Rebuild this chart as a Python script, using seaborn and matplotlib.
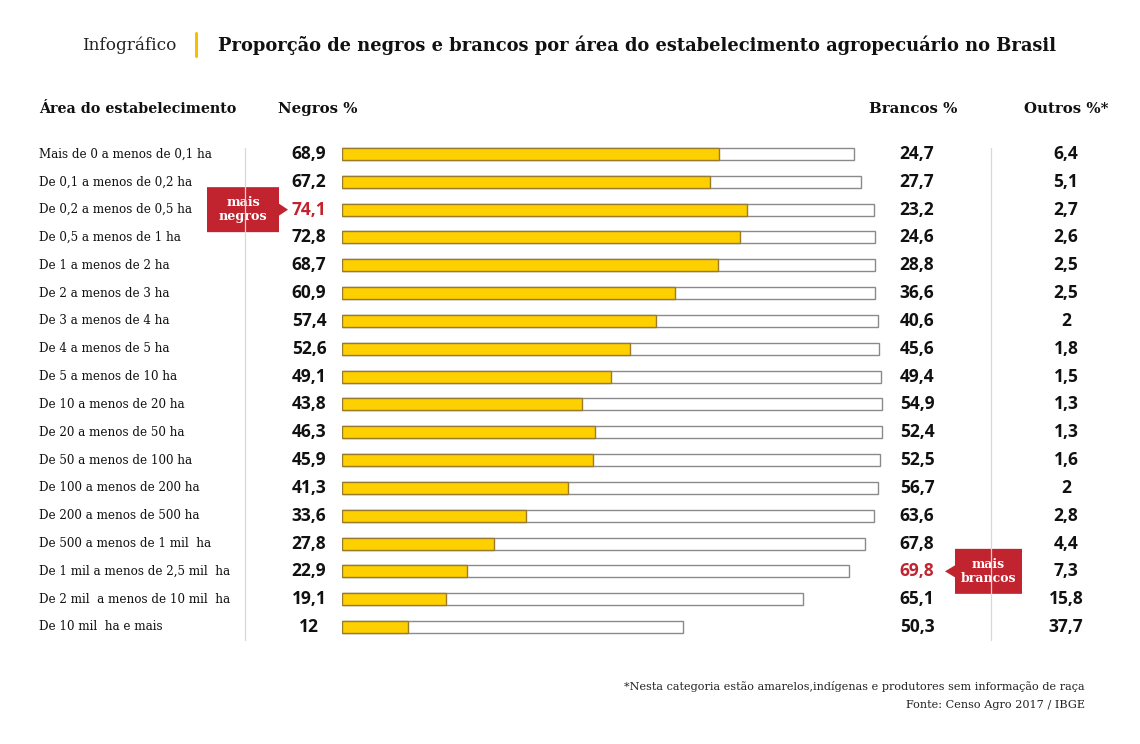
import numpy as np
import pandas as pd
import matplotlib.pyplot as plt
import matplotlib.transforms as mtrans
from matplotlib.patches import Polygon
from matplotlib.lines import Line2D
import seaborn as sns

# ── Data ─────────────────────────────────────────────────────
AREAS = [
    'Mais de 0 a menos de 0,1 ha', 'De 0,1 a menos de 0,2 ha',
    'De 0,2 a menos de 0,5 ha', 'De 0,5 a menos de 1 ha',
    'De 1 a menos de 2 ha', 'De 2 a menos de 3 ha', 'De 3 a menos de 4 ha',
    'De 4 a menos de 5 ha', 'De 5 a menos de 10 ha', 'De 10 a menos de 20 ha',
    'De 20 a menos de 50 ha', 'De 50 a menos de 100 ha',
    'De 100 a menos de 200 ha', 'De 200 a menos de 500 ha',
    'De 500 a menos de 1 mil  ha', 'De 1 mil a menos de 2,5 mil  ha',
    'De 2 mil  a menos de 10 mil  ha', 'De 10 mil  ha e mais',
]
NEGROS = [68.9, 67.2, 74.1, 72.8, 68.7, 60.9, 57.4, 52.6, 49.1, 43.8,
          46.3, 45.9, 41.3, 33.6, 27.8, 22.9, 19.1, 12]
BRANCOS = [24.7, 27.7, 23.2, 24.6, 28.8, 36.6, 40.6, 45.6, 49.4, 54.9,
           52.4, 52.5, 56.7, 63.6, 67.8, 69.8, 65.1, 50.3]
OUTROS = [6.4, 5.1, 2.7, 2.6, 2.5, 2.5, 2, 1.8, 1.5, 1.3,
          1.3, 1.6, 2, 2.8, 4.4, 7.3, 15.8, 37.7]

TITLE = 'Proporção de negros e brancos por área do estabelecimento agropecuário no Brasil'
NOTE = '*Nesta categoria estão amarelos,indígenas e produtores sem informação de raça'
SOURCE = 'Fonte: Censo Agro 2017 / IBGE'

YELLOW = '#ffd000'
YELLOW_EDGE = '#9a7b2c'
RED = '#c1232f'
SERIF = 'DejaVu Serif'
SANS = 'Open Sans'

W, H = 1140, 744

sns.set_theme(style='white')
plt.rcParams['font.family'] = [SERIF, 'DejaVu Sans']


def fx(px):
    return px / W


def fy(py):
    return 1 - py / H


df = pd.DataFrame({'area': AREAS, 'negros': NEGROS, 'brancos': BRANCOS})
df['total'] = df['negros'] + df['brancos']

fig = plt.figure(figsize=(W / 100, H / 100), dpi=100)
fig.patch.set_facecolor('white')

# bar axes: 0% at x=342px, 100% at x=889px; rows centred 154px .. 627px
row_h = (627 - 154) / 17
top = 154 - row_h / 2
bottom = 627 + row_h / 2
ax = fig.add_axes([fx(342), fy(bottom), fx(889) - fx(342), (bottom - top) / H])

sns.barplot(data=df, x='total', y='area', orient='h', color='white',
            edgecolor='#8a8a8a', linewidth=1.0, width=0.43, saturation=1, ax=ax)
sns.barplot(data=df, x='negros', y='area', orient='h', color=YELLOW,
            edgecolor=YELLOW_EDGE, linewidth=1.0, width=0.43, saturation=1, ax=ax)
ax.set_xlim(0, 100)
ax.set_ylim(len(AREAS) - 0.5, -0.5)
ax.axis('off')

tr = mtrans.blended_transform_factory(fig.transFigure, ax.transData)

# ── row texts ────────────────────────────────────────────────
def fmt(v):
    return f'{v:g}'.replace('.', ',')

i_neg = int(np.argmax(NEGROS))
i_bra = int(np.argmax(BRANCOS))
for i, (a, n, b, o) in enumerate(zip(AREAS, NEGROS, BRANCOS, OUTROS)):
    ax.text(fx(39), i, a, transform=tr, ha='left', va='center',
            fontsize=8.6, color='#111111', family=SERIF)
    ax.text(fx(309), i, fmt(n), transform=tr, ha='center', va='center',
            fontsize=12.5, fontweight='bold', family=SANS,
            color=RED if i == i_neg else '#111111')
    ax.text(fx(917), i, fmt(b), transform=tr, ha='center', va='center',
            fontsize=12.5, fontweight='bold', family=SANS,
            color=RED if i == i_bra else '#111111')
    ax.text(fx(1066), i, fmt(o), transform=tr, ha='center', va='center',
            fontsize=12.5, fontweight='bold', family=SANS, color='#111111')

# thin separators
for xp in (245, 991):
    fig.add_artist(Line2D([fx(xp), fx(xp)], [fy(148), fy(640)],
                          color='#d8d8d8', linewidth=0.9))

# ── callouts ─────────────────────────────────────────────────
half = 22.5 / row_h
tip = 6 / row_h
box_neg = [(fx(207), i_neg - half), (fx(279), i_neg - half),
           (fx(279), i_neg - tip), (fx(288), i_neg), (fx(279), i_neg + tip),
           (fx(279), i_neg + half), (fx(207), i_neg + half)]
ax.add_patch(Polygon(box_neg, closed=True, transform=tr, facecolor=RED,
                     edgecolor='none', clip_on=False))
ax.text(fx(243), i_neg, 'mais\nnegros', transform=tr, ha='center', va='center',
        fontsize=9.2, fontweight='bold', color='white', linespacing=1.05)

box_bra = [(fx(955), i_bra - half), (fx(1022), i_bra - half),
           (fx(1022), i_bra + half), (fx(955), i_bra + half),
           (fx(955), i_bra + tip), (fx(945), i_bra), (fx(955), i_bra - tip)]
ax.add_patch(Polygon(box_bra, closed=True, transform=tr, facecolor=RED,
                     edgecolor='none', clip_on=False, zorder=5))
ax.text(fx(988.5), i_bra, 'mais\nbrancos', transform=tr, ha='center',
        va='center', fontsize=9.0, fontweight='bold', color='white',
        linespacing=1.05, zorder=6)

# ── headers ──────────────────────────────────────────────────
hy = fy(109)
fig.text(fx(39), hy, 'Área do estabelecimento', ha='left', va='center',
         fontsize=10.3, fontweight='bold', color='#111111')
fig.text(fx(278), hy, 'Negros %', ha='left', va='center',
         fontsize=10.8, fontweight='bold', color='#111111')
fig.text(fx(869), hy, 'Brancos %', ha='left', va='center',
         fontsize=10.8, fontweight='bold', color='#111111')
fig.text(fx(1024), hy, 'Outros %*', ha='left', va='center',
         fontsize=10.8, fontweight='bold', color='#111111')

# ── title ────────────────────────────────────────────────────
ty = fy(45)
fig.text(fx(82), ty, 'Infográfico', ha='left', va='center',
         fontsize=12.2, color='#222222')
fig.add_artist(Line2D([fx(196), fx(196)], [fy(33), fy(56)],
                      color='#f5c000', linewidth=2.2))
fig.text(fx(218), ty, TITLE, ha='left', va='center',
         fontsize=12.85, fontweight='bold', color='#111111')

# ── footnotes ────────────────────────────────────────────────
fig.text(fx(1085), fy(687), NOTE, ha='right', va='center',
         fontsize=8.1, color='#222222')
fig.text(fx(1085), fy(705), SOURCE, ha='right', va='center',
         fontsize=8.1, color='#222222')

fig.savefig('out.png', dpi=100, facecolor='white')
